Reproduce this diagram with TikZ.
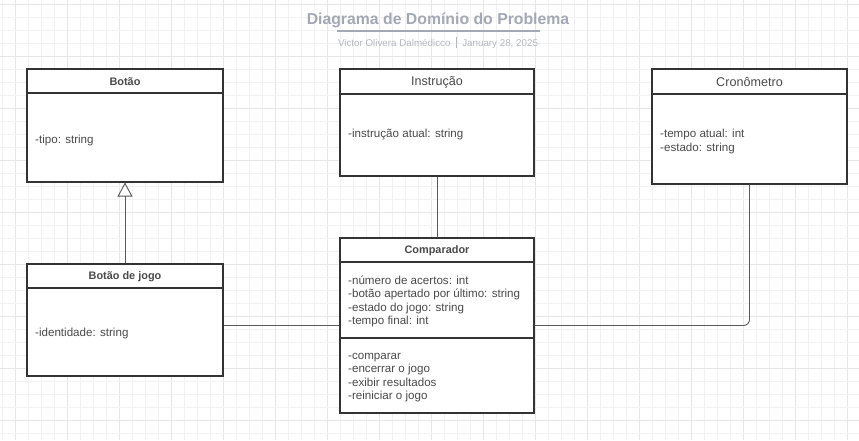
\documentclass[tikz,border=0pt]{standalone}
\usepackage{fontspec}
\setmainfont{Liberation Sans}
\usetikzlibrary{arrows.meta}

\definecolor{gridminor}{HTML}{F2F2F2}
\definecolor{gridmajor}{HTML}{E6E6E6}
\definecolor{boxline}{HTML}{333333}
\definecolor{textgray}{HTML}{4A4A4A}
\definecolor{titlegray}{HTML}{A3A8B4}
\definecolor{subgray}{HTML}{B4B8C0}
\definecolor{linkgray}{HTML}{5A5A5A}

\tikzset{
  classbox/.style={draw=boxline, line width=1.1pt, fill=white, inner sep=0pt},
  classname/.style={font=\fontsize{10.9}{13}\selectfont\bfseries, text=textgray},
  classplain/.style={font=\fontsize{12.6}{14}\selectfont, text=textgray},
  members/.style={font=\fontsize{11.6}{13.3}\selectfont, text=textgray, anchor=west, align=left, inner sep=0pt},
  link/.style={draw=linkgray, line width=0.9pt},
  inherit/.style={link, -{Triangle[open, length=14pt, width=15pt]}}
}

\begin{document}
\begin{tikzpicture}[x=1pt, y=-1pt]
  \useasboundingbox (0,0) rectangle (859,440);
  \fill[white] (0,0) rectangle (859,440);

  % Background grid
  \foreach \k in {0,...,66} {
    \pgfmathsetmacro{\gx}{2.7+13*\k}
    \pgfmathtruncatemacro{\gm}{mod(\k,4)}
    \ifnum\gm=1
      \draw[gridmajor, line width=0.8pt] (\gx,0) -- (\gx,440);
    \else
      \draw[gridminor, line width=0.8pt] (\gx,0) -- (\gx,440);
    \fi
  }
  \foreach \k in {0,...,33} {
    \pgfmathsetmacro{\gy}{4.3+13*\k}
    \pgfmathtruncatemacro{\gm}{mod(\k,4)}
    \ifnum\gm=0
      \draw[gridmajor, line width=0.8pt] (0,\gy) -- (859,\gy);
    \else
      \draw[gridminor, line width=0.8pt] (0,\gy) -- (859,\gy);
    \fi
  }

  % Title
  \node[font=\fontsize{15.8}{18}\selectfont\bfseries, text=titlegray] (title) at (438,20) {Diagrama de Domínio do Problema};
  \draw[titlegray, line width=1.6pt] (337,31) -- (540,31);
  \node[font=\fontsize{9.8}{11}\selectfont, text=subgray] (subtitle) at (438,43) {Victor Olivera Dalmédicco \;\textcolor{subgray}{\rule[-2pt]{0.8pt}{11pt}}\; January 28, 2025};

  % Classes
  \node[classbox, minimum width=196, minimum height=113] (botao) at (125,125.5) {};
  \node[classbox, minimum width=194, minimum height=107] (instrucao) at (437,122.5) {};
  \node[classbox, minimum width=195, minimum height=115] (cronometro) at (749.5,126.5) {};
  \node[classbox, minimum width=196, minimum height=112] (botaojogo) at (125,320) {};
  \node[classbox, minimum width=194, minimum height=175] (comparador) at (437,325.5) {};

  % Header and divider lines
  \draw[boxline, line width=1.1pt] (27,93) -- (223,93);
  \draw[boxline, line width=1.1pt] (340,94) -- (534,94);
  \draw[boxline, line width=1.1pt] (652,94) -- (847,94);
  \draw[boxline, line width=1.1pt] (27,288) -- (223,288);
  \draw[boxline, line width=1.1pt] (340,262) -- (534,262);
  \draw[boxline, line width=1.1pt] (340,338) -- (534,338);

  % Class names
  \node[classname] (botaoname) at (125,81.5) {Botão};
  \node[classplain] (instrucaoname) at (437,82) {Instrução};
  \node[classplain] (cronometroname) at (749.5,82) {Cronômetro};
  \node[classname] (botaojogoname) at (125,276.5) {Botão de jogo};
  \node[classname] (comparadorname) at (437,250.5) {Comparador};

  % Members
  \node[members] (botaoattr) at (35,140.5) {-tipo: string};
  \node[members] (instrucaoattr) at (348,134.5) {-instrução atual: string};
  \node[members] (cronometroattr) at (660,141.5) {-tempo atual: int\\-estado: string};
  \node[members] (botaojogoattr) at (35,333.5) {-identidade: string};
  \node[members] (comparadorattr) at (348,301.5) {-número de acertos: int\\-botão apertado por último: string\\-estado do jogo: string\\-tempo final: int};
  \node[members] (comparadorops) at (348,377.5) {-comparar\\-encerrar o jogo\\-exibir resultados\\-reiniciar o jogo};

  % Relations
  \draw[inherit] (botaojogo.north) -- (botao.south);
  \draw[link] (instrucao.south) -- (comparador.north);
  \draw[link] (comparador.west) -- (comparador.west -| botaojogo.east);
  \draw[link, rounded corners=6pt] (comparador.east) -- (cronometro.south |- comparador.east) -- (cronometro.south);
\end{tikzpicture}
\end{document}
